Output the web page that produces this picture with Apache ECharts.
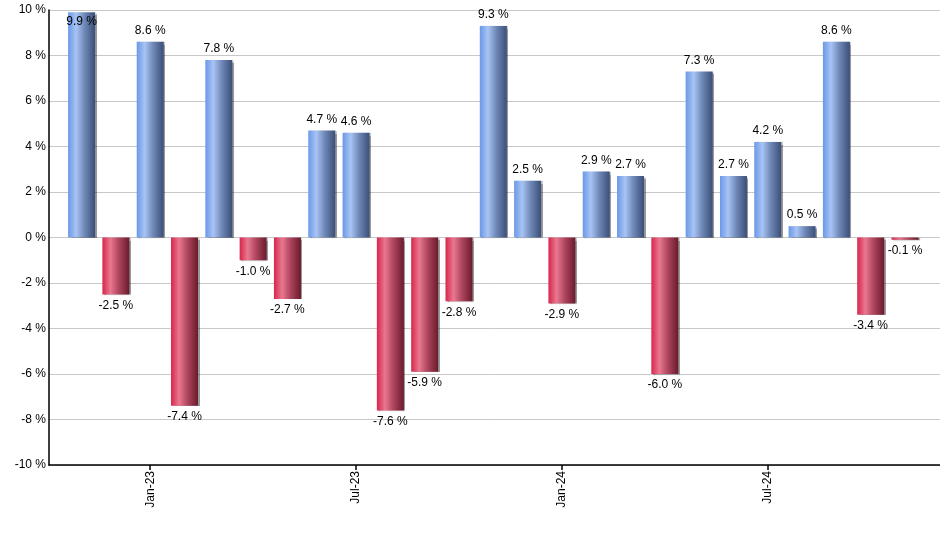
<!DOCTYPE html>
<html>
<head>
<meta charset="utf-8">
<script src="https://cdn.jsdelivr.net/npm/echarts@6/dist/echarts.min.js"></script>
<style>html,body{margin:0;padding:0;background:#fff;}#c{width:940px;height:550px;}</style>
</head>
<body>
<div id="c"></div>
<script>
const months = ['Nov-22','Dec-22','Jan-23','Feb-23','Mar-23','Apr-23','May-23','Jun-23','Jul-23','Aug-23','Sep-23','Oct-23','Nov-23','Dec-23','Jan-24','Feb-24','Mar-24','Apr-24','May-24','Jun-24','Jul-24','Aug-24','Sep-24','Oct-24','Nov-24'];
const returns = [9.9, -2.5, 8.6, -7.4, 7.8, -1.0, -2.7, 4.7, 4.6, -7.6, -5.9, -2.8, 9.3, 2.5, -2.9, 2.9, 2.7, -6.0, 7.3, 2.7, 4.2, 0.5, 8.6, -3.4, -0.1];
const tickMonths = ['Jan-23', 'Jul-23', 'Jan-24', 'Jul-24'];
const yTicks = [-10, -8, -6, -4, -2, 0, 2, 4, 6, 8, 10];

const blueGrad = new echarts.graphic.LinearGradient(0, 0, 1, 0, [
  {offset: 0, color: '#6a98e8'},
  {offset: 0.3, color: '#a8c4f4'},
  {offset: 0.6, color: '#7089b8'},
  {offset: 1, color: '#3a4f78'}
]);
const redGrad = new echarts.graphic.LinearGradient(0, 0, 1, 0, [
  {offset: 0, color: '#d8254c'},
  {offset: 0.3, color: '#e9788f'},
  {offset: 0.6, color: '#b04660'},
  {offset: 1, color: '#6a1a2c'}
]);

const data = returns.map((v, i) => {
  const item = {
    value: [i, v],
    itemStyle: {color: v >= 0 ? blueGrad : redGrad},
    label: {position: v >= 0 ? 'top' : 'bottom'}
  };
  if (v > 9.5) item.label = {position: 'insideTop', distance: 3};
  return item;
});

const chart = echarts.init(document.getElementById('c'), null, {renderer: 'canvas'});
chart.setOption({
  animation: false,
  backgroundColor: '#fff',
  textStyle: {fontFamily: 'Liberation Sans, Arial, sans-serif'},
  grid: {left: 49, right: 0, top: 10, bottom: 85, containLabel: false},
  xAxis: {
    type: 'value',
    min: -0.95,
    max: 25.02,
    axisLine: {show: true, onZero: false, lineStyle: {color: '#000', width: 1.5}},
    splitLine: {show: false},
    axisTick: {show: true, customValues: tickMonths.map(m => months.indexOf(m)), length: 5, lineStyle: {color: '#000', width: 1.5}},
    axisLabel: {
      customValues: tickMonths.map(m => months.indexOf(m)),
      formatter: v => months[Math.round(v)],
      rotate: 90,
      margin: 6,
      color: '#000',
      fontSize: 12,
      fontFamily: 'Liberation Sans, Arial, sans-serif'
    }
  },
  yAxis: {
    type: 'value',
    min: -10,
    max: 10,
    interval: 2,
    axisLine: {show: true, onZero: false, lineStyle: {color: '#000', width: 1.5}},
    axisTick: {show: false},
    splitLine: {show: true, lineStyle: {color: '#c8c8c8', width: 1}},
    axisLabel: {
      formatter: v => yTicks.includes(v) ? v + ' %' : '',
      margin: 3,
      color: '#000',
      fontSize: 12,
      fontFamily: 'Liberation Sans, Arial, sans-serif'
    }
  },
  series: [{
    type: 'bar',
    barWidth: 27,
    data: data,
    itemStyle: {
      shadowColor: 'rgba(0,0,0,0.4)',
      shadowOffsetX: 1.5,
      shadowOffsetY: 0.5,
      shadowBlur: 1
    },
    label: {
      show: true,
      distance: 5,
      color: '#000',
      fontSize: 12,
      fontFamily: 'Liberation Sans, Arial, sans-serif',
      formatter: p => p.value[1].toFixed(1) + ' %'
    }
  }]
});
</script>
</body>
</html>
